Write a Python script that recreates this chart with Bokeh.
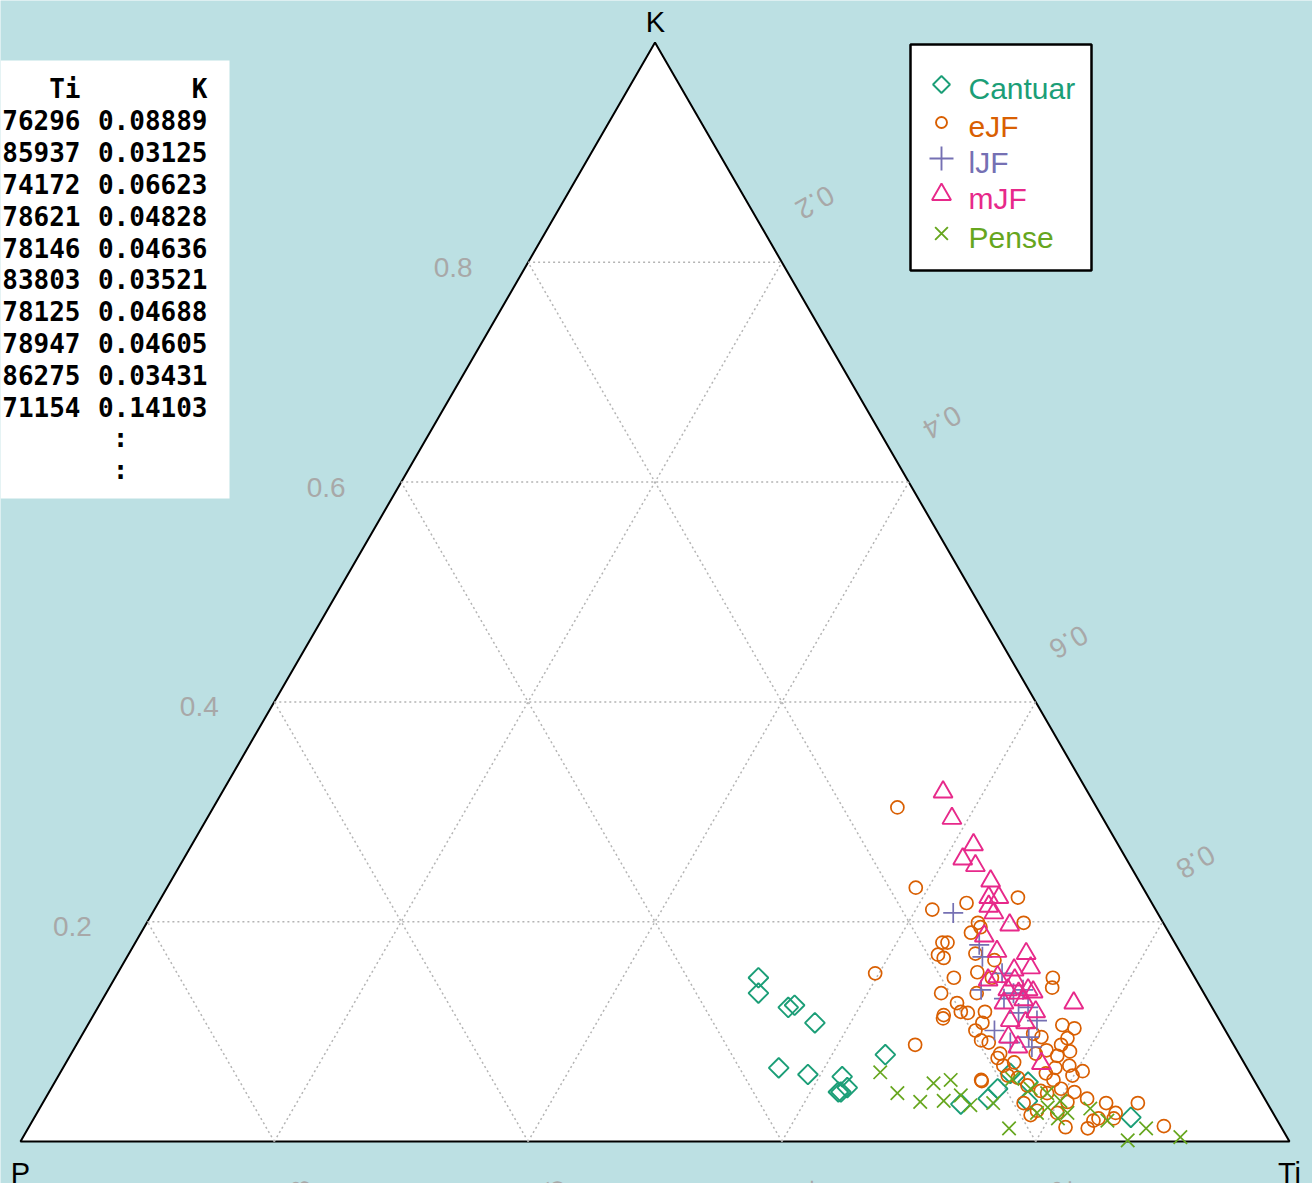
import math
from bokeh.plotting import figure
from bokeh.models import Range1d
from bokeh.core.properties import value
from bokeh.embed import file_html
from bokeh.resources import INLINE

# ternary compositions (Ti, K fractions; P = 1 - Ti - K)
cantuar_ti = [0.507, 0.514, 0.544, 0.548, 0.572, 0.564, 0.590, 0.618, 0.627, 0.624, 0.622,
              0.642, 0.724, 0.743, 0.749, 0.767, 0.746, 0.775, 0.864]
cantuar_k = [0.149, 0.135, 0.122, 0.124, 0.108, 0.067, 0.061, 0.059, 0.049, 0.045, 0.045,
             0.079, 0.034, 0.039, 0.062, 0.054, 0.048, 0.037, 0.022]

ejf_ti = [0.539, 0.590, 0.613, 0.637, 0.675, 0.691, 0.655, 0.659, 0.636, 0.640, 0.638, 0.644,
          0.597, 0.661, 0.667, 0.677, 0.739, 0.743, 0.658, 0.675, 0.682, 0.688, 0.670, 0.671,
          0.701, 0.661, 0.702, 0.711, 0.718, 0.768, 0.779, 0.778, 0.786, 0.732, 0.740, 0.778,
          0.776, 0.792, 0.805, 0.799, 0.730, 0.781, 0.786, 0.787, 0.808, 0.807, 0.821, 0.838,
          0.850, 0.839, 0.863, 0.894, 0.835, 0.817, 0.784, 0.773, 0.787, 0.732, 0.748, 0.757,
          0.768, 0.767, 0.757, 0.749, 0.691, 0.685, 0.654, 0.686, 0.704, 0.747, 0.760, 0.777,
          0.782, 0.796, 0.836, 0.851, 0.804, 0.729]
ejf_k = [0.304, 0.231, 0.211, 0.217, 0.222, 0.199, 0.199, 0.195, 0.181, 0.181, 0.170, 0.167,
         0.153, 0.149, 0.171, 0.154, 0.149, 0.140, 0.135, 0.126, 0.118, 0.117, 0.115, 0.112,
         0.118, 0.088, 0.101, 0.092, 0.090, 0.106, 0.103, 0.094, 0.082, 0.076, 0.069, 0.078,
         0.088, 0.069, 0.064, 0.060, 0.055, 0.046, 0.056, 0.044, 0.045, 0.036, 0.039, 0.035,
         0.026, 0.021, 0.035, 0.014, 0.012, 0.013, 0.024, 0.035, 0.028, 0.080, 0.060, 0.058,
         0.051, 0.083, 0.095, 0.098, 0.149, 0.165, 0.190, 0.135, 0.108, 0.072, 0.080, 0.062,
         0.067, 0.048, 0.019, 0.021, 0.026, 0.056]

ljf_ti = [0.631, 0.666, 0.674, 0.697, 0.688, 0.715, 0.721, 0.710, 0.733, 0.746, 0.717, 0.747,
          0.735, 0.754, 0.728]
ljf_k = [0.208, 0.179, 0.168, 0.153, 0.138, 0.135, 0.138, 0.130, 0.122, 0.110, 0.101, 0.095,
         0.090, 0.086, 0.117]

mjf_ti = [0.568, 0.587, 0.616, 0.614, 0.627, 0.646, 0.652, 0.660, 0.656, 0.663, 0.681, 0.666,
          0.683, 0.707, 0.717, 0.705, 0.767, 0.730, 0.709, 0.719, 0.712, 0.726, 0.741, 0.725,
          0.738, 0.731, 0.743, 0.769, 0.689, 0.695, 0.710, 0.725]
mjf_k = [0.318, 0.294, 0.270, 0.257, 0.251, 0.237, 0.222, 0.222, 0.214, 0.208, 0.197, 0.187,
         0.173, 0.171, 0.158, 0.156, 0.126, 0.136, 0.138, 0.135, 0.126, 0.129, 0.118, 0.110,
         0.108, 0.095, 0.086, 0.071, 0.147, 0.150, 0.147, 0.138]

pense_ti = [0.646, 0.669, 0.691, 0.693, 0.705, 0.709, 0.720, 0.732, 0.749, 0.773, 0.788, 0.794,
            0.807, 0.812, 0.828, 0.847, 0.872, 0.881, 0.912, 0.787, 0.801, 0.753, 0.772]
pense_k = [0.063, 0.044, 0.036, 0.053, 0.056, 0.037, 0.042, 0.033, 0.035, 0.012, 0.026, 0.031,
           0.021, 0.026, 0.030, 0.019, 0.001, 0.012, 0.004, 0.044, 0.037, 0.057, 0.048]

groups = ["Cantuar", "eJF", "lJF", "mJF", "Pense"]
colors = ["#1B9E77", "#D95F02", "#7570B3", "#E7298A", "#66A61E"]

ticks = [0.2, 0.4, 0.6, 0.8]
tick_labels = ["0.2", "0.4", "0.6", "0.8"]

table_ti = ["0.76296", "0.85937", "0.74172", "0.78621", "0.78146", "0.83803", "0.78125",
            "0.78947", "0.86275", "0.71154"]
table_k = ["0.08889", "0.03125", "0.06623", "0.04828", "0.04636", "0.03521", "0.04688",
           "0.04605", "0.03431", "0.14103"]

H = math.sqrt(3) / 2
S = 1269.0  # pixels per unit


def tern(ti, k):
    return [t + kk / 2 for t, kk in zip(ti, k)], [kk * H for kk in k]


def px(x, y):
    # page pixel -> data coordinate
    return (x - 20) / S, (1141 - y) / S


BG = "#BCE0E3"
p = figure(width=1312, height=1183, output_backend="svg", toolbar_location=None,
           x_range=Range1d(-20 / S, (1312 - 20) / S),
           y_range=Range1d((1141 - 1183) / S, 1141 / S),
           min_border=0)
p.axis.visible = False
p.grid.visible = False
p.outline_line_color = None
p.background_fill_color = BG
p.border_fill_color = BG

# triangle
p.patch([0, 1, 0.5], [0, 0, H], fill_color="white", line_color="black", line_width=2)

# grid
for v in ticks:
    p.line([v / 2, 1 - v / 2], [v * H, v * H], line_color="#B4B4B4", line_dash="2 3", line_width=1.5)
    p.line([v, v + (1 - v) / 2], [0, (1 - v) * H], line_color="#B4B4B4", line_dash="2 3", line_width=1.5)
    p.line([1 - v, (1 - v) / 2], [0, (1 - v) * H], line_color="#B4B4B4", line_dash="2 3", line_width=1.5)

gray = "#A8A8A8"
font = value("Liberation Sans")
# K tick labels (left)
for v, lab in zip(ticks, tick_labels):
    x0, y0 = v / 2 - 75 / S, v * H - 5 / S
    p.text([x0], [y0], text=[lab], text_color=gray, text_font=font, text_font_size="28px",
           text_align="center", text_baseline="middle")
# Ti tick labels (right), rotated
for v, lab in zip(ticks, tick_labels):
    ex, ey = v + (1 - v) / 2, (1 - v) * H
    p.text([ex + 33 / S], [ey + 60 / S], text=[lab], text_color=gray, text_font=font,
           text_font_size="28px", text_align="center", text_baseline="middle", angle=210,
           angle_units="deg")
# P tick labels (bottom), rotated and mostly below the edge
for v, lab in zip(ticks, tick_labels):
    ex = 1 - v
    p.text([ex + 26 / S], [-58 / S], text=[lab], text_color=gray, text_font=font,
           text_font_size="28px", text_align="center", text_baseline="middle", angle=90,
           angle_units="deg")

# vertex labels
for (x, y), lab in zip([px(655, 21), px(20, 1172), px(1289, 1172)], ["K", "P", "Ti"]):
    p.text([x], [y], text=[lab], text_color="black", text_font=font, text_font_size="29px",
           text_align="center", text_baseline="middle")

# points
x, y = tern(cantuar_ti, cantuar_k)
p.scatter(x, y, marker="square", angle=math.pi / 4, size=14, fill_color=None,
          line_color=colors[0], line_width=1.9)
x, y = tern(ejf_ti, ejf_k)
p.scatter(x, y, marker="circle", size=13, fill_color=None, line_color=colors[1], line_width=1.7)
x, y = tern(ljf_ti, ljf_k)
p.scatter(x, y, marker="cross", size=20, fill_color=None, line_color=colors[2], line_width=1.7)
x, y = tern(mjf_ti, mjf_k)
p.scatter(x, y, marker="triangle", size=19, fill_color=None, line_color=colors[3], line_width=1.9)
x, y = tern(pense_ti, pense_k)
p.scatter(x, y, marker="x", size=19, fill_color=None, line_color=colors[4], line_width=1.7)

# legend
l, t = px(910, 44)
r, b = px(1091, 270)
p.quad(left=l, right=r, top=t, bottom=b, fill_color="white", line_color="black", line_width=2.5)
leg_y = [84, 122, 158, 194, 233]
leg_m = [("square", 12, math.pi / 4), ("circle", 11, 0), ("cross", 24, 0),
         ("triangle", 19, 0), ("x", 18, 0)]
for name, c, yy, (m, s, a) in zip(groups, colors, leg_y, leg_m):
    mx, my = px(941, yy)
    p.scatter([mx], [my], marker=m, size=s, angle=a, fill_color=None, line_color=c, line_width=1.9)
    tx, ty = px(968, yy + 4)
    p.text([tx], [ty], text=[name], text_color=c, text_font=font, text_font_size="30px",
           text_baseline="middle")

# data table box
l, t = px(0, 60)
r, b = px(229, 498)
p.quad(left=l, right=r, top=t, bottom=b, fill_color="white", line_color=None)
mono = value("DejaVu Sans Mono")
rows = [("Ti", "K")] + list(zip(table_ti, table_k))
for i, (a, k) in enumerate(rows):
    yy = 88 + 31.8 * i
    ax_, ay_ = px(80, yy)
    kx_, ky_ = px(207, yy)
    p.text([ax_], [ay_], text=[a], text_color="black", text_font=mono, text_font_size="26px",
           text_font_style="bold", text_align="right", text_baseline="middle")
    p.text([kx_], [ky_], text=[k], text_color="black", text_font=mono, text_font_size="26px",
           text_font_style="bold", text_align="right", text_baseline="middle")
for j in range(2):
    cx, cy = px(120, 88 + 31.8 * (len(rows) + j))
    p.text([cx], [cy], text=[":"], text_color="black", text_font=mono, text_font_size="26px",
           text_font_style="bold", text_align="center", text_baseline="middle")

open("out.html", "w").write(file_html(p, INLINE))
